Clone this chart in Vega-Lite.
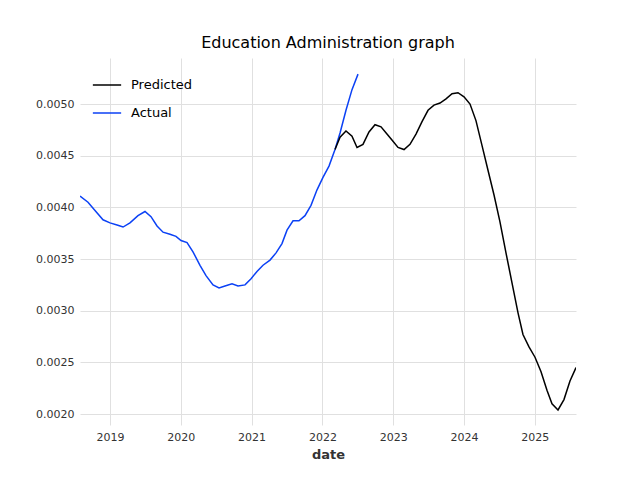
{
  "$schema": "https://vega.github.io/schema/vega-lite/v6.json",
  "width": 496,
  "height": 367,
  "autosize": {"type": "none"},
  "padding": {"left": 80, "top": 58, "right": 64, "bottom": 55},
  "title": {"text": "Education Administration graph", "fontSize": 16, "fontWeight": "normal", "font": "DejaVu Sans", "color": "black", "offset": 7},
  "config": {
    "view": {"stroke": null},
    "axis": {"labelFont": "DejaVu Sans", "titleFont": "DejaVu Sans", "labelFontSize": 11, "labelColor": "#333", "gridColor": "#e0e0e0", "domain": false, "ticks": false, "labelPadding": 6}
  },
  "data": {
    "values": [
      {"t": 2018.576, "v": 0.00411, "s": "Actual"},
      {"t": 2018.689, "v": 0.00405, "s": "Actual"},
      {"t": 2018.788, "v": 0.00397, "s": "Actual"},
      {"t": 2018.901, "v": 0.00388, "s": "Actual"},
      {"t": 2019.0, "v": 0.00385, "s": "Actual"},
      {"t": 2019.099, "v": 0.00383, "s": "Actual"},
      {"t": 2019.184, "v": 0.00381, "s": "Actual"},
      {"t": 2019.282, "v": 0.00385, "s": "Actual"},
      {"t": 2019.395, "v": 0.00392, "s": "Actual"},
      {"t": 2019.494, "v": 0.00396, "s": "Actual"},
      {"t": 2019.579, "v": 0.00391, "s": "Actual"},
      {"t": 2019.664, "v": 0.00382, "s": "Actual"},
      {"t": 2019.749, "v": 0.00376, "s": "Actual"},
      {"t": 2019.847, "v": 0.00374, "s": "Actual"},
      {"t": 2019.932, "v": 0.00372, "s": "Actual"},
      {"t": 2020.003, "v": 0.00368, "s": "Actual"},
      {"t": 2020.088, "v": 0.00366, "s": "Actual"},
      {"t": 2020.172, "v": 0.00357, "s": "Actual"},
      {"t": 2020.271, "v": 0.00344, "s": "Actual"},
      {"t": 2020.356, "v": 0.00334, "s": "Actual"},
      {"t": 2020.455, "v": 0.00325, "s": "Actual"},
      {"t": 2020.540, "v": 0.00322, "s": "Actual"},
      {"t": 2020.624, "v": 0.00324, "s": "Actual"},
      {"t": 2020.723, "v": 0.00326, "s": "Actual"},
      {"t": 2020.808, "v": 0.00324, "s": "Actual"},
      {"t": 2020.907, "v": 0.00325, "s": "Actual"},
      {"t": 2020.992, "v": 0.00331, "s": "Actual"},
      {"t": 2021.076, "v": 0.00338, "s": "Actual"},
      {"t": 2021.161, "v": 0.00344, "s": "Actual"},
      {"t": 2021.260, "v": 0.00349, "s": "Actual"},
      {"t": 2021.345, "v": 0.00356, "s": "Actual"},
      {"t": 2021.429, "v": 0.00365, "s": "Actual"},
      {"t": 2021.500, "v": 0.00378, "s": "Actual"},
      {"t": 2021.585, "v": 0.00387, "s": "Actual"},
      {"t": 2021.669, "v": 0.00387, "s": "Actual"},
      {"t": 2021.754, "v": 0.00392, "s": "Actual"},
      {"t": 2021.839, "v": 0.00402, "s": "Actual"},
      {"t": 2021.924, "v": 0.00417, "s": "Actual"},
      {"t": 2022.008, "v": 0.00429, "s": "Actual"},
      {"t": 2022.093, "v": 0.00440, "s": "Actual"},
      {"t": 2022.178, "v": 0.00456, "s": "Actual"},
      {"t": 2022.249, "v": 0.00472, "s": "Actual"},
      {"t": 2022.333, "v": 0.00494, "s": "Actual"},
      {"t": 2022.418, "v": 0.00514, "s": "Actual"},
      {"t": 2022.503, "v": 0.00529, "s": "Actual"},
      {"t": 2022.178, "v": 0.00456, "s": "Predicted"},
      {"t": 2022.249, "v": 0.00468, "s": "Predicted"},
      {"t": 2022.333, "v": 0.00474, "s": "Predicted"},
      {"t": 2022.418, "v": 0.00469, "s": "Predicted"},
      {"t": 2022.489, "v": 0.00458, "s": "Predicted"},
      {"t": 2022.573, "v": 0.00461, "s": "Predicted"},
      {"t": 2022.658, "v": 0.00473, "s": "Predicted"},
      {"t": 2022.743, "v": 0.00480, "s": "Predicted"},
      {"t": 2022.828, "v": 0.00478, "s": "Predicted"},
      {"t": 2022.912, "v": 0.00471, "s": "Predicted"},
      {"t": 2022.997, "v": 0.00464, "s": "Predicted"},
      {"t": 2023.068, "v": 0.00458, "s": "Predicted"},
      {"t": 2023.153, "v": 0.00456, "s": "Predicted"},
      {"t": 2023.237, "v": 0.00461, "s": "Predicted"},
      {"t": 2023.322, "v": 0.00471, "s": "Predicted"},
      {"t": 2023.407, "v": 0.00483, "s": "Predicted"},
      {"t": 2023.492, "v": 0.00494, "s": "Predicted"},
      {"t": 2023.576, "v": 0.00499, "s": "Predicted"},
      {"t": 2023.661, "v": 0.00501, "s": "Predicted"},
      {"t": 2023.746, "v": 0.00505, "s": "Predicted"},
      {"t": 2023.831, "v": 0.00510, "s": "Predicted"},
      {"t": 2023.915, "v": 0.00511, "s": "Predicted"},
      {"t": 2024.0, "v": 0.00507, "s": "Predicted"},
      {"t": 2024.085, "v": 0.00500, "s": "Predicted"},
      {"t": 2024.169, "v": 0.00484, "s": "Predicted"},
      {"t": 2024.254, "v": 0.00460, "s": "Predicted"},
      {"t": 2024.339, "v": 0.00436, "s": "Predicted"},
      {"t": 2024.424, "v": 0.00412, "s": "Predicted"},
      {"t": 2024.508, "v": 0.00386, "s": "Predicted"},
      {"t": 2024.593, "v": 0.00356, "s": "Predicted"},
      {"t": 2024.678, "v": 0.00327, "s": "Predicted"},
      {"t": 2024.763, "v": 0.00298, "s": "Predicted"},
      {"t": 2024.833, "v": 0.00277, "s": "Predicted"},
      {"t": 2024.918, "v": 0.00265, "s": "Predicted"},
      {"t": 2025.003, "v": 0.00255, "s": "Predicted"},
      {"t": 2025.088, "v": 0.00241, "s": "Predicted"},
      {"t": 2025.172, "v": 0.00223, "s": "Predicted"},
      {"t": 2025.243, "v": 0.00210, "s": "Predicted"},
      {"t": 2025.328, "v": 0.00204, "s": "Predicted"},
      {"t": 2025.412, "v": 0.00214, "s": "Predicted"},
      {"t": 2025.497, "v": 0.00232, "s": "Predicted"},
      {"t": 2025.582, "v": 0.00245, "s": "Predicted"}
    ]
  },
  "mark": {"type": "line", "strokeWidth": 1.5, "clip": true},
  "encoding": {
    "x": {
      "field": "t", "type": "quantitative", "title": "date",
      "scale": {"domain": [2018.576, 2025.582], "nice": false, "zero": false},
      "axis": {"values": [2019, 2020, 2021, 2022, 2023, 2024, 2025], "format": "d", "titleFontSize": 13, "titleFontWeight": "bold", "titleColor": "#333", "titlePadding": 6}
    },
    "y": {
      "field": "v", "type": "quantitative", "title": null,
      "scale": {"domain": [0.001894, 0.005446], "nice": false, "zero": false},
      "axis": {"values": [0.002, 0.0025, 0.003, 0.0035, 0.004, 0.0045, 0.005], "format": ".4f"}
    },
    "color": {
      "field": "s", "type": "nominal",
      "scale": {"domain": ["Predicted", "Actual"], "range": ["black", "#0b41f5"]},
      "legend": {"title": null, "orient": "top-left", "symbolType": "stroke", "symbolStrokeWidth": 1.5, "symbolSize": 800, "labelFont": "DejaVu Sans", "labelFontSize": 13, "labelColor": "black", "labelOffset": 9, "offset": 12, "rowPadding": 6}
    },
    "order": {"field": "t", "type": "quantitative"}
  }
}
